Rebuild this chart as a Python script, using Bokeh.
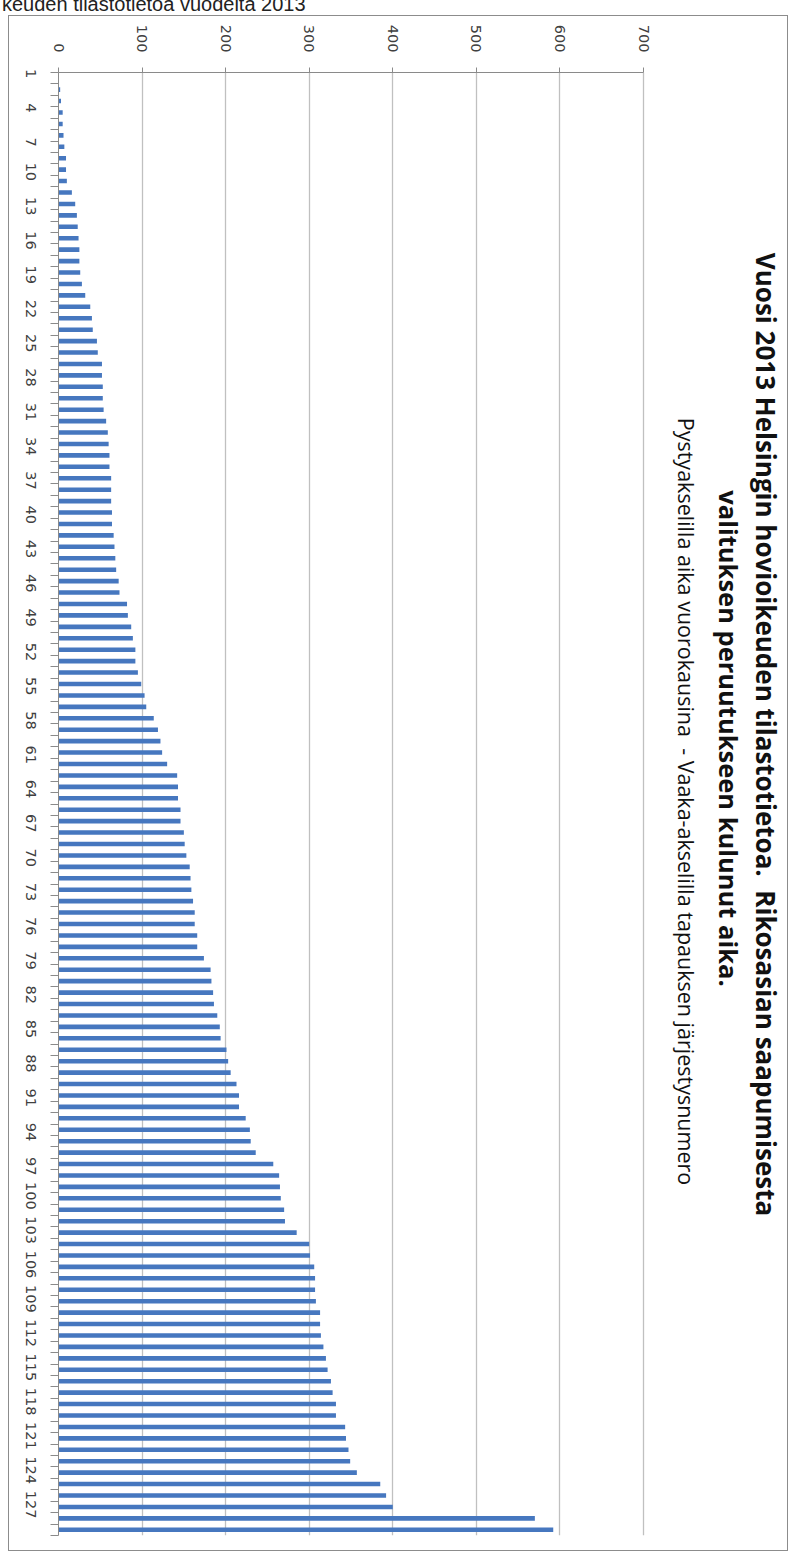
import math
from bokeh.plotting import figure
from bokeh.models import ColumnDataSource, Range1d, FixedTicker, Label, Div
from bokeh.layouts import column
from bokeh.embed import file_html
from bokeh.resources import INLINE

# ---- data ----
case_no = list(range(1, 129))          # case order numbers (categories)
days = [0, 2, 3, 5, 5, 6, 7, 9, 9, 10,
        16, 20, 22, 23, 24, 25, 25, 26, 28, 32,
        38, 40, 41, 46, 47, 52, 52, 53, 53, 54,
        57, 59, 60, 61, 61, 63, 63, 63, 64, 64,
        66, 67, 68, 69, 72, 73, 82, 83, 87, 89,
        92, 92, 95, 99, 103, 105, 114, 119, 122, 124,
        130, 142, 143, 143, 146, 146, 150, 151, 153, 157,
        158, 159, 161, 163, 163, 166, 166, 174, 182, 183,
        185, 186, 190, 193, 194, 201, 203, 206, 213, 216,
        216, 224, 229, 230, 236, 257, 264, 265, 266, 270,
        271, 285, 300, 301, 306, 307, 307, 308, 313, 313,
        314, 317, 320, 322, 326, 328, 332, 332, 343, 344,
        347, 349, 357, 385, 392, 400, 570, 592]
case_tick_labels = list(range(1, 128, 3))      # 1, 4, 7, ..., 127
value_ticks = [0, 100, 200, 300, 400, 500, 600, 700]

title_line1 = "Vuosi 2013 Helsingin hovioikeuden tilastotietoa.\u00a0 Rikosasian saapumisesta"
title_line2 = "valituksen peruutukseen kulunut aika."
subtitle = "Pystyakselilla aika vuorokausina\u00a0 - Vaaka-akselilla tapauksen järjestysnumero"
top_note = "keuden tilastotietoa vuodelta 2013"

source = ColumnDataSource(dict(case=case_no, days=days))

n = len(case_no)
# frame runs to the canvas' right edge so that the rotated titles can sit inside it;
# the value axis itself is bounded to 0..700
W, H = 780, 1536
left_b, top_b, bottom_b = 49, 56, 17
px_per_unit = 585 / 700
x_end = (W - left_b) / px_per_unit

p = figure(width=W, height=H, output_backend="svg", toolbar_location=None,
           x_range=Range1d(0, x_end), y_range=Range1d(n + 0.5, 0.5),
           x_axis_location="above",
           min_border_left=left_b, min_border_right=0, min_border_top=top_b,
           min_border_bottom=bottom_b)
p.outline_line_color = None
p.background_fill_color = "white"
p.border_fill_color = "white"
p.margin = (15, 0, 0, 8)
p.styles = {"border": "1px solid #8c8c8c"}

p.hbar(y="case", right="days", left=0, height=0.4, source=source,
       fill_color="#4677BF", line_color=None)

# value axis (top)
p.xaxis.ticker = FixedTicker(ticks=value_ticks)
p.xaxis.bounds = (0, 700)
p.xaxis.major_label_orientation = -math.pi / 2
p.xaxis.major_tick_out = 5
p.xaxis.major_tick_in = 0
p.xaxis.minor_tick_line_color = None
p.xaxis.axis_line_color = "#8a8a8a"
p.xaxis.major_tick_line_color = "#8a8a8a"
p.xaxis.major_label_standoff = 15
p.xaxis.major_label_text_font = "DejaVu Sans"
p.xaxis.major_label_text_font_size = "14.5px"
p.xaxis.major_label_text_color = "#404040"

# category axis (left)
p.yaxis.ticker = FixedTicker(ticks=case_tick_labels,
                             minor_ticks=[i + 0.5 for i in range(0, n + 1)])
p.yaxis.major_label_orientation = -math.pi / 2
p.yaxis.major_tick_line_color = None
p.yaxis.minor_tick_out = 8
p.yaxis.minor_tick_in = 0
p.yaxis.minor_tick_line_color = "#8a8a8a"
p.yaxis.axis_line_color = "#8a8a8a"
p.yaxis.major_label_standoff = 20
p.yaxis.major_label_text_font = "DejaVu Sans"
p.yaxis.major_label_text_font_size = "14.5px"
p.yaxis.major_label_text_color = "#404040"

p.xgrid.ticker = FixedTicker(ticks=value_ticks)
p.xgrid.grid_line_color = "#C0C0C0"
p.xgrid.grid_line_width = 1.3
p.ygrid.grid_line_color = None

# titles (rotated like the chart); screen units from the frame's bottom-left corner
p.add_layout(Label(x=707, y=801, x_units="screen", y_units="screen", text=title_line1,
                   angle=-math.pi / 2, text_align="center", text_baseline="middle",
                   text_font="Open Sans", text_font_style="bold", text_font_size="26px",
                   text_color="#111111"))
p.add_layout(Label(x=670, y=797, x_units="screen", y_units="screen", text=title_line2,
                   angle=-math.pi / 2, text_align="center", text_baseline="middle",
                   text_font="Open Sans", text_font_style="bold", text_font_size="25.5px",
                   text_color="#111111"))
p.add_layout(Label(x=628, y=734, x_units="screen", y_units="screen", text=subtitle,
                   angle=-math.pi / 2, text_align="center", text_baseline="middle",
                   text_font="Open Sans", text_font_size="21.5px",
                   text_color="#111111"))

div = Div(text=('<div style="position:relative; top:-6px; left:2px; '
                'font-family:\'Liberation Sans\'; font-size:20px; line-height:20px; '
                'white-space:nowrap; color:#222;">' + top_note + '</div>'),
          width=780, height=0, margin=(0, 0, 0, 0))

layout = column(div, p, spacing=0)
open("out.html", "w").write(file_html(layout, INLINE))
